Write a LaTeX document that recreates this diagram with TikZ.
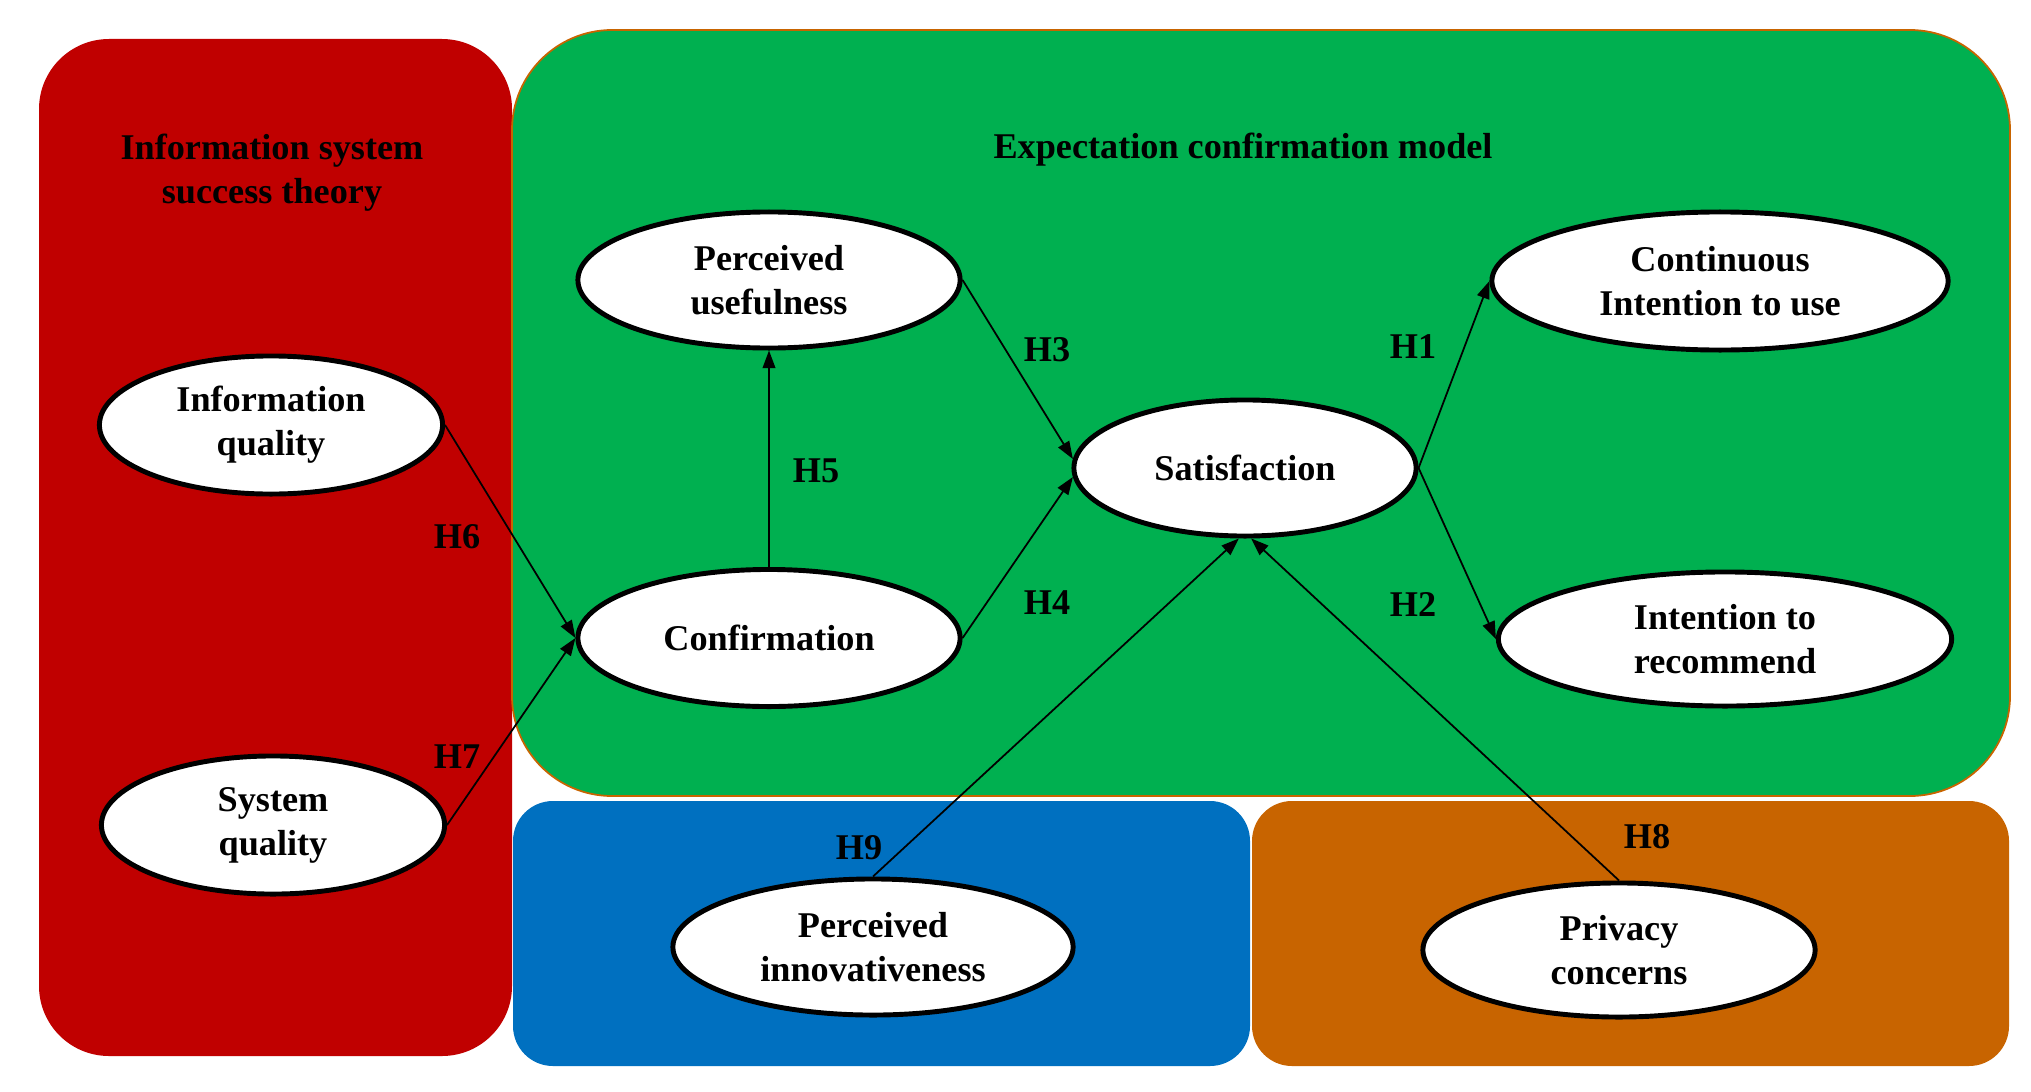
\documentclass[tikz,border=0pt]{standalone}
\usepackage{fontspec}
\setmainfont{Liberation Serif}[BoldFont={Liberation Serif Bold}]
\usepackage{xcolor}
\definecolor{isred}{RGB}{192,0,0}
\definecolor{ecgreen}{RGB}{0,176,80}
\definecolor{piblue}{RGB}{0,112,192}
\definecolor{pcorange}{RGB}{200,100,0}
\usetikzlibrary{positioning,arrows.meta,fit,shapes.geometric}

\begin{document}
\begin{tikzpicture}[
      x=0.01cm,y=-0.01cm,
      lbl/.style={font=\rmfamily\bfseries\fontsize{10.3}{12.5}\selectfont,align=center},
      construct/.style={ellipse,draw,line width=1.4pt,fill=white,inner sep=0pt,lbl},
      link/.style={-{Triangle[length=5pt,width=3.6pt]},line width=0.5pt}
    ]
    \useasboundingbox (0,0) rectangle (2031,1091);
    % theory blocks
    \fill[isred,rounded corners=0.7cm] (39,39) rectangle (512,1056);
    \filldraw[fill=ecgreen,draw=pcorange,line width=0.5pt,rounded corners=1cm]
    (512,30) rectangle (2010,796);
    \fill[piblue,rounded corners=0.4cm] (513,801) rectangle (1250,1066);
    \fill[pcorange,rounded corners=0.4cm] (1252,801) rectangle (2009,1066);
    \node[lbl] (istitle) at (272,173) {Information system\\success theory};
    \node[lbl] (ectitle) at (1243,150) {Expectation confirmation model};
    % constructs
    \node[construct,minimum width=3.43cm,minimum height=1.38cm] (iq) at (271,425)
    {Information\\quality};
    \node[construct,minimum width=3.43cm,minimum height=1.38cm] (sq) at (273,825)
    {System\\quality};
    \node[construct,minimum width=3.82cm,minimum height=1.36cm] (pu) at (769,280)
    {Perceived\\usefulness};
    \node[construct,minimum width=3.82cm,minimum height=1.37cm] (conf) at (769,638)
    {Confirmation};
    \node[construct,minimum width=3.42cm,minimum height=1.36cm] (sat) at (1245,468)
    {Satisfaction};
    \node[construct,minimum width=4.56cm,minimum height=1.38cm] (ci) at (1720,281)
    {Continuous\\Intention to use};
    \node[construct,minimum width=4.53cm,minimum height=1.34cm] (ir) at (1725,639)
    {Intention to\\recommend};
    \node[construct,minimum width=4.00cm,minimum height=1.36cm] (pi) at (873,947)
    {Perceived\\innovativeness};
    \node[construct,minimum width=3.92cm,minimum height=1.34cm] (pc) at (1619,950)
    {Privacy\\concerns};
    % hypotheses
    \draw[link] (sat.east) -- (ci.west);
    \draw[link] (sat.east) -- (ir.west);
    \draw[link] (pu.east) -- (sat.177);
    \draw[link] (conf.east) -- (sat.183);
    \draw[link] (conf.north) -- (pu.south);
    \draw[link] (iq.east) -- (conf.west);
    \draw[link] (sq.east) -- (conf.west);
    \draw[link] (pc.north) -- (sat.275);
    \draw[link] (pi.north) -- (sat.265);
    \node[lbl] (h1) at (1413,347) {H1};
    \node[lbl] (h2) at (1413,605) {H2};
    \node[lbl] (h3) at (1047,350) {H3};
    \node[lbl] (h4) at (1047,603) {H4};
    \node[lbl] (h5) at (816,471) {H5};
    \node[lbl] (h6) at (457,537) {H6};
    \node[lbl] (h7) at (457,757) {H7};
    \node[lbl] (h8) at (1647,837) {H8};
    \node[lbl] (h9) at (859,848) {H9};
  \end{tikzpicture}
\end{document}
